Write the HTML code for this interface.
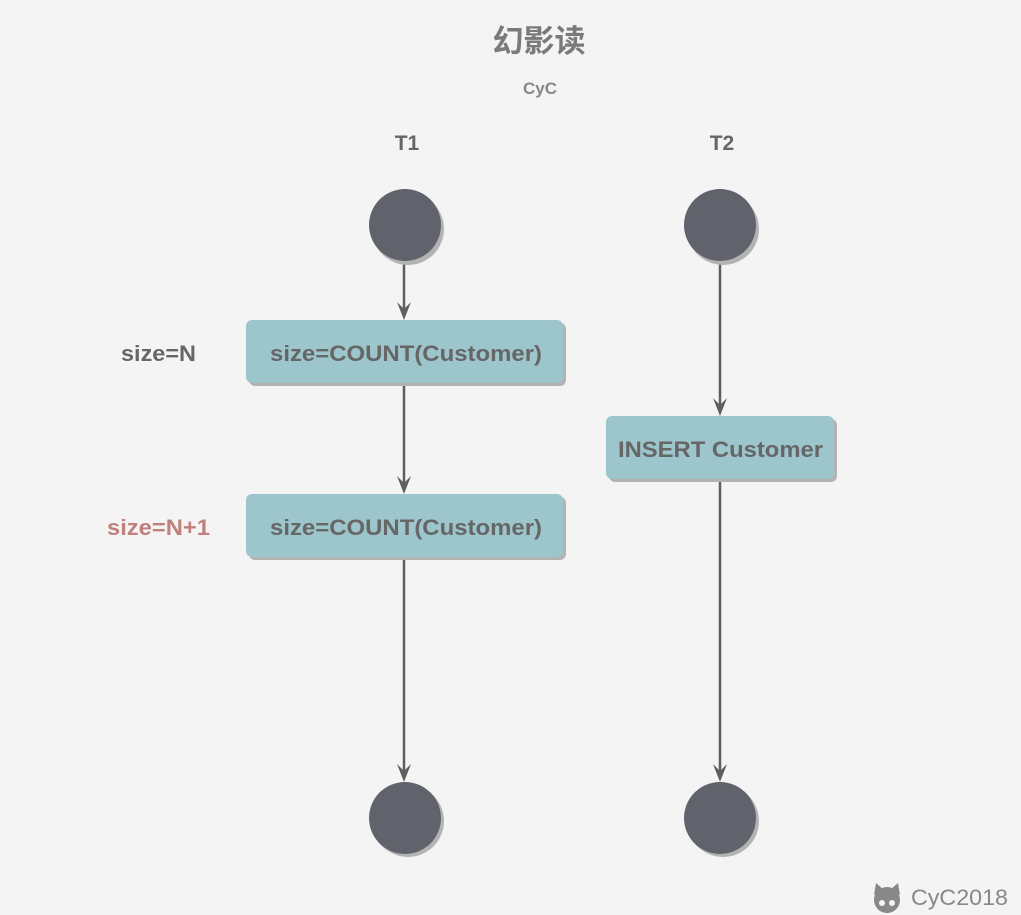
<!DOCTYPE html>
<html><head><meta charset="utf-8"><style>
body{margin:0;background:#f4f4f4;}
svg{display:block}
text{font-family:"Liberation Sans","Noto Sans CJK SC",sans-serif;font-weight:bold;fill:#666}
</style></head><body>
<svg width="1021" height="915" viewBox="0 0 1021 915">
<rect width="1021" height="915" fill="#f4f4f4"/>
<text x="539" y="52" font-size="31" text-anchor="middle" style="fill:#7a7a7a">幻影读</text>
<text x="540" y="94" font-size="17" text-anchor="middle" style="fill:#888">CyC</text>
<text x="407" y="150" font-size="21" text-anchor="middle">T1</text>
<text x="722" y="150" font-size="21" text-anchor="middle">T2</text>
<g fill="#5e5e5e" stroke="#5e5e5e" stroke-width="2.5">
<line x1="404" y1="261" x2="404" y2="312"/>
<line x1="404" y1="383" x2="404" y2="486"/>
<line x1="404" y1="557" x2="404" y2="774"/>
<line x1="720" y1="261" x2="720" y2="408"/>
<line x1="720" y1="479" x2="720" y2="774"/>
</g>
<g fill="#5e5e5e">
<path d="M397,302 L404,320 L411,302 L404,309 Z"/>
<path d="M397,476 L404,494 L411,476 L404,483 Z"/>
<path d="M397,764 L404,782 L411,764 L404,771 Z"/>
<path d="M713,398 L720,416 L727,398 L720,405 Z"/>
<path d="M713,764 L720,782 L727,764 L720,771 Z"/>
</g>
<g fill="#b3b3b3">
<circle cx="408" cy="229" r="36"/><circle cx="723" cy="229" r="36"/>
<circle cx="408" cy="821" r="36"/><circle cx="723" cy="821" r="36"/>
<rect x="249" y="323" width="317" height="63" rx="6"/>
<rect x="249" y="497" width="317" height="63" rx="6"/>
<rect x="609" y="419" width="228" height="63" rx="6"/>
</g>
<g fill="#60636b">
<circle cx="405" cy="225" r="36"/><circle cx="720" cy="225" r="36"/>
<circle cx="405" cy="818" r="36"/><circle cx="720" cy="818" r="36"/>
</g>
<g fill="#9cc5cc">
<rect x="246" y="320" width="317" height="63" rx="6"/>
<rect x="246" y="494" width="317" height="63" rx="6"/>
<rect x="606" y="416" width="228" height="63" rx="6"/>
</g>
<text x="270" y="361" font-size="22" textLength="272" lengthAdjust="spacingAndGlyphs">size=COUNT(Customer)</text>
<text x="270" y="535" font-size="22" textLength="272" lengthAdjust="spacingAndGlyphs">size=COUNT(Customer)</text>
<text x="618" y="457" font-size="22" textLength="205" lengthAdjust="spacingAndGlyphs">INSERT Customer</text>
<text x="121" y="361" font-size="22" textLength="75" lengthAdjust="spacingAndGlyphs">size=N</text>
<text x="107" y="535" font-size="22" textLength="103" lengthAdjust="spacingAndGlyphs" style="fill:#c0817c">size=N+1</text>
<g fill="#888"><circle cx="887" cy="900" r="13"/><path d="M874,895 L876,883 L884,890 Z M900,895 L898,883 L890,890 Z"/></g>
<circle cx="882" cy="903" r="3" fill="#f4f4f4"/><circle cx="892" cy="903" r="3" fill="#f4f4f4"/>
<text x="911" y="905" font-size="22" textLength="97" lengthAdjust="spacingAndGlyphs" style="fill:#888;font-weight:normal">CyC2018</text>
</svg>
</body></html>
